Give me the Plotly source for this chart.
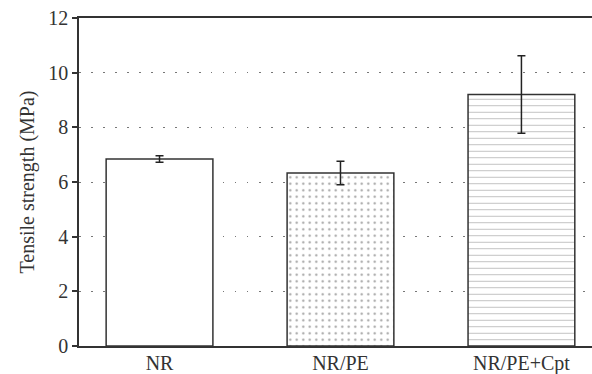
import plotly.graph_objects as go

categories = ["NR", "NR/PE", "NR/PE+Cpt"]
values = [6.84, 6.33, 9.2]
errors = [0.12, 0.43, 1.42]
patterns = ["", ".", "-"]
y_ticks = [0, 2, 4, 6, 8, 10, 12]

font = dict(family="Liberation Serif, Times New Roman, serif", size=20, color="#333333")

fig = go.Figure()
fig.add_trace(go.Bar(
    x=categories, y=values,
    width=0.59,
    marker=dict(
        color="white",
        line=dict(color="#333333", width=1.5),
        pattern=dict(shape=patterns, fgcolor="#444444", bgcolor="white", size=6.5, solidity=0.1),
    ),
    error_y=dict(type="data", array=errors, visible=True, color="#222222", thickness=1.5, width=4),
    showlegend=False,
))

fig.update_layout(
    width=592, height=374,
    margin=dict(l=79, r=0, t=18, b=28),
    plot_bgcolor="white", paper_bgcolor="white",
    font=font,
)
fig.update_xaxes(
    range=[-0.445, 2.39], automargin=False,
    showline=True, linecolor="#333333", linewidth=1.5, mirror=True,
    ticks="", showgrid=False, tickfont=font, ticklabelstandoff=-2,
)
fig.update_yaxes(
    range=[0, 12], tickvals=y_ticks,
    showline=True, linecolor="#333333", linewidth=1.5, mirror=False,
    ticks="outside", ticklen=5, tickcolor="#333333", tickwidth=1.5,
    showgrid=True, gridcolor="#777777", gridwidth=1, griddash="1.5px,10.5px",
    zeroline=False, tickfont=font,
    title=dict(text="Tensile strength (MPa)", font=font, standoff=8),
)

fig.write_html("out.html", config={"displayModeBar": False},
               post_script="document.body.style.margin='0';document.body.style.overflow='hidden';")
